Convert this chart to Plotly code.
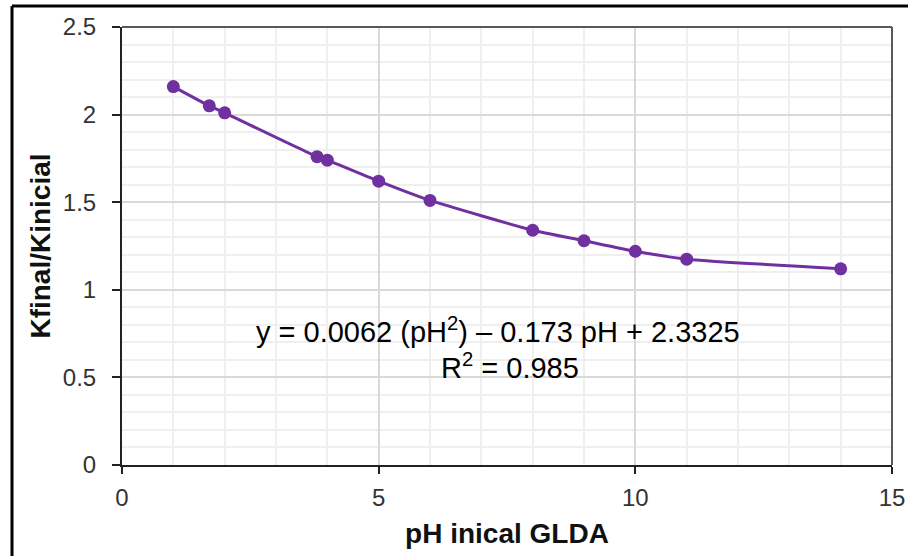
import plotly.graph_objects as go

ph_values = [1, 1.7, 2, 3.8, 4, 5, 6, 8, 9, 10, 11, 14]
k_ratio = [2.16, 2.05, 2.01, 1.76, 1.74, 1.62, 1.51, 1.34, 1.28, 1.22, 1.175, 1.12]
x_ticks = [0, 5, 10, 15]
y_ticks = [0, 0.5, 1, 1.5, 2, 2.5]
y_tick_labels = ["0", "0.5", "1", "1.5", "2", "2.5"]
equation_text = "y = 0.0062 (pH<sup>2</sup>) \u2013 0.173 pH + 2.3325"
r2_text = "R<sup>2</sup> = 0.985"
x_title = "pH inical GLDA"
y_title = "Kfinal/Kinicial"

W, H = 908, 556
L, R, T, B = 122, 16, 27, 91
pw, ph = W - L - R, H - T - B

def px(x):
    return (x - L) / pw

def py(y):
    return (H - B - y) / ph

purple = "#7030A0"
FONT = "Liberation Sans, Arial, sans-serif"

fig = go.Figure()
fig.add_trace(go.Scatter(
    x=ph_values, y=k_ratio, mode="lines+markers",
    line=dict(color=purple, width=3, shape="spline", smoothing=0.5),
    marker=dict(color=purple, size=13),
    showlegend=False, hoverinfo="x+y",
))

fig.update_layout(
    width=W, height=H,
    margin=dict(l=L, r=R, t=T, b=B, autoexpand=False),
    paper_bgcolor="white", plot_bgcolor="white",
    font=dict(family=FONT, size=24, color="#333333"),
    xaxis=dict(
        range=[0, 15], tickvals=x_ticks, ticktext=[str(v) for v in x_ticks],
        showgrid=True, gridcolor="#d9d9d9", gridwidth=1.5,
        minor=dict(dtick=1, showgrid=True, gridcolor="#efefef", gridwidth=1.5),
        showline=True, linecolor="#222222", linewidth=2,
        ticks="outside", ticklen=7, tickcolor="#222222", tickwidth=2,
        ticklabelstandoff=3,
        tickfont=dict(family=FONT, size=24, color="#333333"),
        title=dict(text="<b>" + x_title + "</b>", font=dict(family=FONT, size=28, color="#111111"), standoff=14),
        zeroline=False, fixedrange=True, automargin=False,
    ),
    yaxis=dict(
        range=[0, 2.5], tickvals=y_ticks, ticktext=y_tick_labels,
        showgrid=True, gridcolor="#d9d9d9", gridwidth=1.5,
        minor=dict(dtick=0.1, showgrid=True, gridcolor="#efefef", gridwidth=1.5),
        showline=True, linecolor="#222222", linewidth=2,
        ticks="outside", ticklen=8, tickcolor="#222222", tickwidth=2,
        ticklabelstandoff=11,
        tickfont=dict(family=FONT, size=24, color="#333333"),
        title=dict(text="<b>" + y_title + "</b>", font=dict(family=FONT, size=28, color="#111111"), standoff=4),
        zeroline=False, fixedrange=True, automargin=False,
    ),
    shapes=[
        dict(type="line", xref="paper", yref="paper", x0=0, y0=1, x1=1, y1=1,
             line=dict(color="#595959", width=2)),
        dict(type="line", xref="paper", yref="paper", x0=1, y0=0, x1=1, y1=1,
             line=dict(color="#595959", width=2)),
        dict(type="line", xref="paper", yref="paper", x0=px(12), y0=py(6), x1=px(W + 5), y1=py(6),
             line=dict(color="black", width=3)),
        dict(type="line", xref="paper", yref="paper", x0=px(12), y0=py(6), x1=px(12), y1=py(H + 5),
             line=dict(color="black", width=3)),
    ],
    annotations=[
        dict(text=equation_text, xref="paper", yref="paper", x=px(498), y=py(330),
             xanchor="center", yanchor="middle", showarrow=False,
             font=dict(family=FONT, size=29, color="black")),
        dict(text=r2_text, xref="paper", yref="paper", x=px(510), y=py(366),
             xanchor="center", yanchor="middle", showarrow=False,
             font=dict(family=FONT, size=29, color="black")),
    ],
)

fig.write_html("out.html")
